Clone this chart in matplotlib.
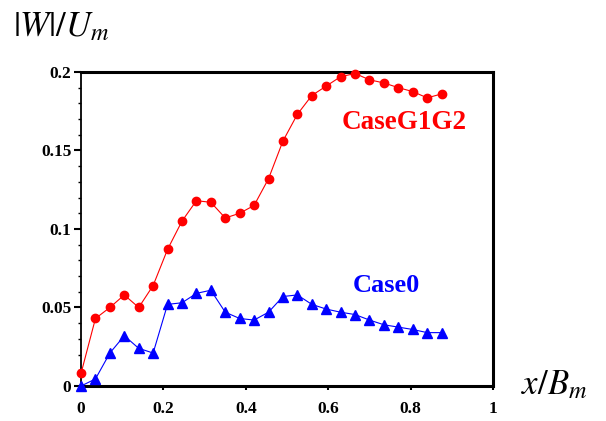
import matplotlib
matplotlib.use("Agg")
import matplotlib.pyplot as plt
import numpy as np
from matplotlib.ticker import MultipleLocator

plt.rcParams['font.family'] = ['Liberation Serif', 'DejaVu Serif']
plt.rcParams['mathtext.fontset'] = 'stix'

# x positions (x/B_m)
x_pos = [0.0, 0.035, 0.07, 0.105, 0.14, 0.175, 0.21, 0.245, 0.28, 0.315,
         0.35, 0.385, 0.42, 0.455, 0.49, 0.525, 0.56, 0.595, 0.63, 0.665,
         0.70, 0.735, 0.77, 0.805, 0.84, 0.875]

case_g1g2 = [0.008, 0.043, 0.050, 0.058, 0.050, 0.064, 0.087, 0.105, 0.118, 0.117,
             0.107, 0.110, 0.115, 0.132, 0.156, 0.173, 0.185, 0.191, 0.197, 0.199,
             0.195, 0.193, 0.190, 0.1875, 0.1835, 0.186]

case0 = [0.0, 0.0045, 0.021, 0.032, 0.024, 0.021, 0.052, 0.053, 0.059, 0.061,
         0.047, 0.043, 0.042, 0.047, 0.057, 0.058, 0.052, 0.049, 0.047, 0.0455,
         0.042, 0.039, 0.0375, 0.036, 0.034, 0.034]

fig = plt.figure(figsize=(6.06, 4.21), dpi=100)
ax = fig.add_axes([0.1337, 0.0831, 0.68, 0.746])

ax.plot(x_pos, case_g1g2, color='#ff0000', lw=0.8, marker='o', ms=6,
        mec='#ff0000', mfc='#ff0000', clip_on=False, zorder=3)
ax.plot(x_pos, case0, color='#0000ff', lw=0.8, marker='^', ms=7,
        mec='#0000ff', mfc='#0000ff', clip_on=False, zorder=3)

ax.set_xlim(0, 1)
ax.set_ylim(0, 0.2)

ax.yaxis.set_minor_locator(MultipleLocator(0.01))

ax.set_xticks([0, 0.2, 0.4, 0.6, 0.8, 1.0])
ax.set_xticklabels(['0', '0.2', '0.4', '0.6', '0.8', '1'])
ax.set_yticks([0, 0.05, 0.1, 0.15, 0.2])
ax.set_yticklabels(['0', '0.05', '0.1', '0.15', '0.2'])

ax.tick_params(axis='both', which='major', direction='out', labelsize=12.5,
               width=1.5, length=4)
ax.tick_params(axis='y', which='major', length=5, pad=2)
ax.tick_params(axis='y', which='minor', direction='out', width=1, length=2.5)
ax.tick_params(axis='x', which='major', length=3, pad=8)
for lab in ax.get_xticklabels() + ax.get_yticklabels():
    lab.set_fontweight('bold')

for side in ['top', 'right', 'bottom']:
    ax.spines[side].set_linewidth(2.2)
ax.spines['left'].set_linewidth(1.3)

ax.text(0.633, 0.168, 'CaseG1G2', color='#ff0000', fontsize=19.5,
        fontweight='bold', ha='left', va='center')
ax.text(0.66, 0.064, 'Case0', color='#0000ff', fontsize=19,
        fontweight='bold', ha='left', va='center')

fig.text(0.022, 0.935, r'$|W|/U_m$', fontsize=25, ha='left', va='center')
fig.text(0.86, 0.085, r'$x/B_m$', fontsize=25, ha='left', va='center')

fig.savefig('out.png', dpi=100)
